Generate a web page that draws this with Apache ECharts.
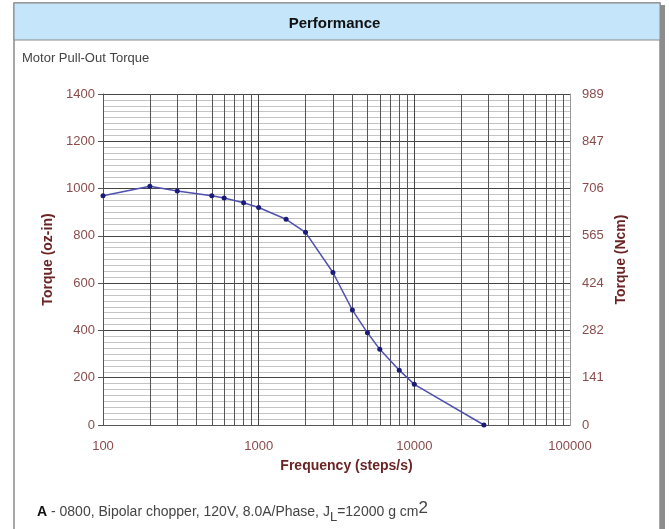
<!DOCTYPE html>
<html>
<head>
<meta charset="utf-8">
<script src="https://cdn.jsdelivr.net/npm/echarts@6/dist/echarts.min.js"></script>
<style>
  html, body { margin: 0; padding: 0; background: #fff; }
  #main { width: 669px; height: 529px; }
</style>
</head>
<body>
<div id="main"></div>
<script>
// data
var freq = [100, 200, 300, 500, 600, 800, 1000, 1500, 2000, 3000, 4000, 5000, 6000, 8000, 10000, 28000];
var torque = [970, 1010, 990, 970, 960, 940, 920, 870, 815, 645, 486, 390, 320, 232, 172, 0];
var xMinor = [200, 300, 400, 500, 600, 700, 800, 900,
              2000, 3000, 4000, 5000, 6000, 7000, 8000, 9000,
              20000, 30000, 40000, 50000, 60000, 70000, 80000, 90000];
var rightTicks = ['0', '141', '282', '424', '565', '706', '847', '989'];

var labelColor = '#8a4c4c';
var nameColor = '#6a2424';
var fontFam = '"Liberation Sans", Arial, sans-serif';

var chart = echarts.init(document.getElementById('main'));

var points = [];
for (var i = 0; i < freq.length; i++) {
    points.push([freq[i], torque[i]]);
}
var minorLines = xMinor.map(function (v) { return {xAxis: v}; });

var ncmStep = 200 * 0.706155;

function plain(v) {
    return String(Math.round(v));
}

var options = {
    animation: false,
    textStyle: {fontFamily: fontFam},
    title: {
        text: 'Performance',
        left: 'center',
        top: 11,
        textStyle: {fontSize: 15, fontWeight: 'bold', color: '#111', fontFamily: fontFam}
    },
    graphic: [
        {type: 'rect', z: -10, shape: {x: 14, y: 3, width: 646, height: 560},
            style: {fill: '#fff', stroke: '#8a8a8a', lineWidth: 1.5}},
        {type: 'rect', z: -9, shape: {x: 14, y: 3, width: 646, height: 37},
            style: {fill: '#c4e5fa', stroke: '#8a8a8a', lineWidth: 1}},
        {type: 'rect', z: -9, shape: {x: 660, y: 5, width: 5, height: 530},
            style: {fill: '#8c8c8c'}},
        {type: 'text', left: 22, top: 52,
            style: {text: 'Motor Pull-Out Torque', fontSize: 13, fill: '#444', fontFamily: fontFam}},
        {type: 'text', left: 37, top: 500,
            style: {
                text: '{b|A} - 0800, Bipolar chopper, 120V, 8.0A/Phase, J{sub|L}=12000 g cm{sup|2}',
                fontFamily: fontFam,
                fontSize: 14,
                fill: '#444',
                rich: {
                    b: {fontSize: 14, fontWeight: 'bold', fill: '#111', lineHeight: 24, verticalAlign: 'middle'},
                    sub: {fontSize: 13, fill: '#444', lineHeight: 24, verticalAlign: 'bottom'},
                    sup: {fontSize: 17, fill: '#444', lineHeight: 20, verticalAlign: 'top'}
                }
            }}
    ],
    grid: {left: 103, right: 99, top: 94, bottom: 104},
    xAxis: {
        type: 'log',
        logBase: 10,
        min: 100,
        max: 100000,
        name: 'Frequency (steps/s)',
        nameLocation: 'middle',
        nameGap: 34,
        nameTextStyle: {color: nameColor, fontSize: 14, fontWeight: 'bold', fontFamily: fontFam,
            padding: [0, 0, 0, 20]},
        axisLine: {lineStyle: {color: '#555'}},
        axisTick: {show: false},
        axisLabel: {color: labelColor, fontSize: 13, margin: 15, formatter: plain},
        splitLine: {show: true, lineStyle: {color: '#444', width: 1}}
    },
    yAxis: [
        {
            type: 'value',
            min: 0,
            max: 1400,
            interval: 200,
            name: 'Torque (oz-in)',
            nameLocation: 'middle',
            nameGap: 44,
            nameTextStyle: {color: nameColor, fontSize: 14, fontWeight: 'bold', fontFamily: fontFam},
            axisLine: {show: true, lineStyle: {color: '#555'}},
            axisTick: {show: true, length: 5, lineStyle: {color: '#555'}},
            axisLabel: {color: labelColor, fontSize: 13, margin: 8, formatter: plain},
            splitLine: {show: true, lineStyle: {color: '#444', width: 1}},
            minorTick: {show: false, splitNumber: 8},
            minorSplitLine: {show: true, lineStyle: {color: '#c4c4c4', width: 1}}
        },
        {
            type: 'value',
            min: 0,
            max: ncmStep * 7,
            interval: ncmStep,
            name: 'Torque (Ncm)',
            nameLocation: 'middle',
            nameRotate: 90,
            nameGap: 35,
            nameTextStyle: {color: nameColor, fontSize: 14, fontWeight: 'bold', fontFamily: fontFam},
            axisLine: {show: true, lineStyle: {color: '#999'}},
            axisTick: {show: false},
            axisLabel: {
                color: labelColor, fontSize: 13, margin: 12,
                formatter: function (v, idx) { return rightTicks[idx]; }
            },
            splitLine: {show: false}
        }
    ],
    series: [
        {
            type: 'line',
            data: [],
            z: 1,
            markLine: {
                silent: true,
                symbol: 'none',
                label: {show: false},
                lineStyle: {color: '#555', width: 1, type: 'solid'},
                data: minorLines
            }
        },
        {
            type: 'line',
            z: 5,
            data: points,
            symbol: 'circle',
            symbolSize: 5,
            itemStyle: {color: '#1a1a78'},
            lineStyle: {color: '#5050b0', width: 1.5}
        }
    ]
};

chart.setOption(options);
</script>
</body>
</html>
